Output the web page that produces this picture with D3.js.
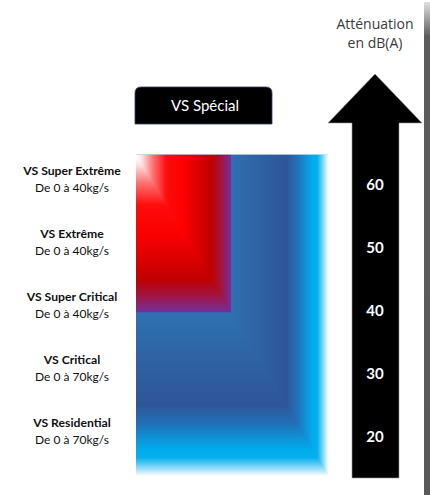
<!DOCTYPE html>
<html>
<head>
<meta charset="utf-8">
<script src="https://cdn.jsdelivr.net/npm/d3@7"></script>
<style>
  body { margin: 0; background: #fff; }
  svg { display: block; }
</style>
</head>
<body>
<script>
// product ranges and their attenuation level (dB(A))
let productNames = ["VS Super Extrême", "VS Extrême", "VS Super Critical", "VS Critical", "VS Residential"];
let productFlow = ["De 0 à 40kg/s", "De 0 à 40kg/s", "De 0 à 40kg/s", "De 0 à 70kg/s", "De 0 à 70kg/s"];
let productLevel = [60, 50, 40, 30, 20];

// scale tick labels on the arrow
let dbTicks = [60, 50, 40, 30, 20];

// zones: [bottom dB, top dB]
let standardZone = [13.9, 64.8];
let specialZone = [39.8, 64.8];
let specialLabel = "VS Spécial";

let width = 430, height = 495;

let svg = d3.select("body").append("svg")
    .attr("width", width)
    .attr("height", height);

let y = d3.scaleLinear().domain([20, 60]).range([437, 185]);

let defs = svg.append("defs");

let blueStops = [
    [0, "#2E75B6"], [0.5, "#2E70B0"], [0.78, "#2F5597"], [0.84, "#2072BA"],
    [0.92, "#00ACEC"], [0.945, "#06B0EE"], [0.975, "#8AD8F6"], [1, "#F4FBFE"]
];
let redStops = [
    [0, "#FFFFFF"], [0.06, "#FFE4E4"], [0.18, "#FF7070"], [0.32, "#FF0C0C"],
    [0.5, "#FA0000"], [0.64, "#E00000"], [0.79, "#C00000"], [0.9, "#A01545"], [1, "#7030A0"]
];

// rectangular (corner) gradient: vertical gradient rect, horizontal gradient over the upper-right triangle
makeGrad = (id, stops, vertical) => {
    let g = defs.append("linearGradient")
        .attr("id", id)
        .attr("x1", 0).attr("y1", 0)
        .attr("x2", vertical ? 0 : 1).attr("y2", vertical ? 1 : 0);
    g.selectAll("stop").data(stops).enter().append("stop")
        .attr("offset", (d) => d[0])
        .attr("stop-color", (d) => d[1]);
}
makeGrad("blueH", blueStops, false);
makeGrad("blueV", blueStops, true);
makeGrad("redH", redStops, false);
makeGrad("redV", redStops, true);

drawZone = (x0, x1, zone, name) => {
    let top = y(zone[1]), bottom = y(zone[0]);
    let g = svg.append("g");
    g.append("rect")
        .attr("x", x0).attr("y", top)
        .attr("width", x1 - x0).attr("height", bottom - top)
        .attr("fill", `url(#${name}V)`);
    g.append("path")
        .attr("d", `M${x0},${top}L${x1},${top}L${x1},${bottom}Z`)
        .attr("fill", `url(#${name}H)`);
}

drawZone(136, 328, standardZone, "blue");
drawZone(136, 231, specialZone, "red");

// "VS Spécial" tab
let tab = svg.append("g");
let tx0 = 135, tx1 = 272, ty0 = 87, ty1 = 124, r = 6;
tab.append("path")
    .attr("d", `M${tx0},${ty1}L${tx0},${ty0 + r}Q${tx0},${ty0} ${tx0 + r},${ty0}L${tx1 - r},${ty0}Q${tx1},${ty0} ${tx1},${ty0 + r}L${tx1},${ty1}Z`)
    .attr("fill", "#000")
    .attr("stroke", "#2F3F6F")
    .attr("stroke-width", 0.8);
tab.append("text")
    .text(specialLabel)
    .attr("x", 205)
    .attr("y", (ty0 + ty1) / 2 + 5)
    .attr("text-anchor", "middle")
    .style("font-family", "Lato")
    .style("font-size", "15px")
    .style("fill", "#fff");

// product labels
let labels = svg.append("g").selectAll("g")
    .data(productNames)
    .enter()
    .append("g")
    .attr("transform", (d, i) => `translate(72, ${y(productLevel[i]) - 6})`);

labels.append("text")
    .text((d) => d)
    .attr("y", -4)
    .attr("text-anchor", "middle")
    .style("font-family", "Lato")
    .style("font-weight", 700)
    .style("font-size", "12.2px")
    .style("fill", "#111");

labels.append("text")
    .text((d, i) => productFlow[i])
    .attr("y", 13)
    .attr("text-anchor", "middle")
    .style("font-family", "Lato")
    .style("font-size", "12px")
    .style("fill", "#111");

// arrow
let ax = 375;
svg.append("path")
    .attr("d", `M${ax},74L422,123L399,123L399,478L352,478L352,123L328,123Z`)
    .attr("fill", "#000")
    .attr("stroke", "#9a9a9a")
    .attr("stroke-width", 0.6);

svg.append("g").selectAll("text")
    .data(dbTicks)
    .enter()
    .append("text")
    .text((d) => d)
    .attr("x", ax)
    .attr("y", (d) => y(d) + 5)
    .attr("text-anchor", "middle")
    .style("font-family", "Lato")
    .style("font-weight", 700)
    .style("font-size", "15px")
    .style("fill", "#fff");

// title
let title = svg.append("text")
    .attr("text-anchor", "middle")
    .style("font-family", "Open Sans")
    .style("font-size", "14px")
    .style("fill", "#3a3a3a");
title.append("tspan").attr("x", ax).attr("y", 29).text("Atténuation");
title.append("tspan").attr("x", ax).attr("y", 48).text("en dB(A)");

// grey bar at right edge
let gg = defs.append("linearGradient")
    .attr("id", "greyBar")
    .attr("x1", 0).attr("y1", 0).attr("x2", 0).attr("y2", 1);
gg.append("stop").attr("offset", 0).attr("stop-color", "#e0e0e0");
gg.append("stop").attr("offset", 0.07).attr("stop-color", "#5c5c5c");
gg.append("stop").attr("offset", 1).attr("stop-color", "#595959");
svg.append("rect")
    .attr("x", 424).attr("y", 2)
    .attr("width", 6).attr("height", height - 2)
    .attr("fill", "url(#greyBar)");
</script>
</body>
</html>
